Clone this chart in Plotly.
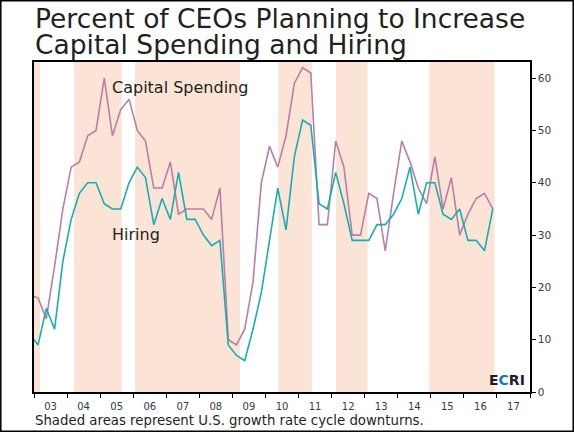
import pandas as pd
import plotly.graph_objects as go

# quarterly survey, Q4 2002 .. Q4 2016
quarters = pd.period_range("2002Q4", "2016Q4", freq="Q")

capital_spending = [18.5, 18, 14, 24, 35, 43, 44, 49, 50, 60, 49, 54, 56, 50, 48, 39,
                    39, 44, 34, 35, 35, 35, 33, 39, 10, 9, 12, 21, 40, 47, 43, 49,
                    59, 62, 61, 32, 32, 48, 43, 30, 30, 38, 37, 27, 38, 48, 44, 39,
                    36, 45, 35, 41, 30, 34, 37, 38, 35]

hiring = [11, 9, 16, 12, 25, 33, 38, 40, 40, 36, 35, 35, 40, 43, 41, 32,
          37, 33, 42, 33, 33, 30, 28, 29, 9, 7, 6, 12, 19, 29, 39, 31,
          45, 52, 51, 36, 35, 42, 36, 29, 29, 29, 32, 32, 34, 37, 43, 34,
          40, 40, 34, 33, 35, 29, 29, 27, 35]

# U.S. growth rate cycle downturns (shaded)
downturn_start = ["2002-06-01", "2004-03-20", "2006-01-22", "2010-05-22", "2012-02-20", "2014-12-16"]
downturn_end = ["2003-03-07", "2005-08-25", "2009-03-25", "2011-05-27", "2013-02-03", "2016-12-06"]

y_ticks = [0, 10, 20, 30, 40, 50, 60]

# mid-quarter dates
dates = [p.start_time + (p.end_time - p.start_time) / 2 for p in quarters]

W, H = 574, 432
L, R, T, B = 34, 44, 62, 40
PW, PH = W - L - R, H - T - B


def px(p):
    return (p - L) / PW


def py(p):
    return (H - B - p) / PH


DARK = "#231f20"
TICK = "#2e3a52"

fig = go.Figure()
fig.add_trace(go.Scatter(x=dates, y=capital_spending, mode="lines",
                         line=dict(color="#b87fa9", width=1.6), name="Capital Spending"))
fig.add_trace(go.Scatter(x=dates, y=hiring, mode="lines",
                         line=dict(color="#17aeb0", width=1.6), name="Hiring"))

shapes = []
for s, e in zip(downturn_start, downturn_end):
    shapes.append(dict(type="rect", xref="x", yref="paper", x0=s, x1=e, y0=0, y1=1,
                       fillcolor="#fbe3d5", line=dict(width=0), layer="below"))
# outer frame of the whole picture
shapes.append(dict(type="rect", xref="paper", yref="paper",
                   x0=px(0.8), x1=px(W - 0.8), y0=py(H - 0.8), y1=py(0.8),
                   line=dict(color="black", width=1.5)))

font = "DejaVu Sans, sans-serif"
annotations = [
    dict(text="Percent of CEOs Planning to Increase", x=px(33), y=py(18), xanchor="left",
         yanchor="middle", font=dict(family=font, size=26.5, color=DARK)),
    dict(text="Capital Spending and Hiring", x=px(33), y=py(44), xanchor="left",
         yanchor="middle", font=dict(family=font, size=26.5, color=DARK)),
    dict(text="Capital Spending", x=px(110), y=py(87.5), xanchor="left", yanchor="middle",
         font=dict(family=font, size=16, color=DARK)),
    dict(text="Hiring", x=px(110), y=py(234.5), xanchor="left", yanchor="middle",
         font=dict(family=font, size=16, color=DARK)),
    dict(text="Shaded areas represent U.S. growth rate cycle downturns.", x=px(33), y=py(420),
         xanchor="left", yanchor="middle", font=dict(family=font, size=13.3, color=DARK)),
    dict(text="<b>E<span style='color:#1b75bc'>C</span>RI</b>", x=px(527), y=py(380),
         xanchor="right", yanchor="middle", font=dict(family=font, size=14, color="#1d1d2b")),
]
for a in annotations:
    a.update(xref="paper", yref="paper", showarrow=False)

fig.update_layout(
    width=W, height=H,
    margin=dict(l=L, r=R, t=T, b=B),
    paper_bgcolor="white", plot_bgcolor="white",
    showlegend=False,
    shapes=shapes,
    annotations=annotations,
    font=dict(family=font, color=TICK, size=10),
)
fig.update_xaxes(
    type="date", range=["2003-01-01", "2018-01-01"],
    dtick="M12", tick0="2003-01-01", tickformat="%y", ticklabelmode="period",
    ticks="outside", ticklen=4, tickcolor="black", tickwidth=1,
    ticklabelstandoff=0,
    showgrid=False, zeroline=False,
    showline=True, linecolor="black", linewidth=1.5, mirror=True,
    tickfont=dict(size=10, color=TICK),
)
fig.update_yaxes(
    side="right", range=[0, 63.1], tickvals=y_ticks,
    ticks="outside", ticklen=4, tickcolor="black", tickwidth=1,
    showgrid=False, zeroline=False,
    showline=True, linecolor="black", linewidth=1.5, mirror=True,
    tickfont=dict(size=10.5, color=TICK),
)

# page body margin would push the figure off the window
fig.write_html("out.html", config={"displayModeBar": False},
               post_script="document.body.style.margin='0';")
